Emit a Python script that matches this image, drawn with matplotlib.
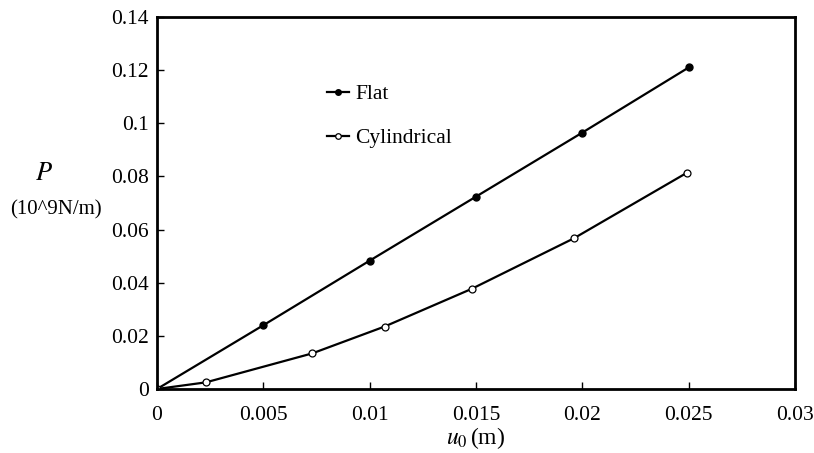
import matplotlib
matplotlib.use('Agg')
import matplotlib.pyplot as plt
from matplotlib.ticker import FuncFormatter, MultipleLocator

# displacement u0 (m) and load P (10^9 N/m)
flat_u = [0.0, 0.005, 0.010, 0.015, 0.020, 0.025]
flat_p = [0.0, 0.0240, 0.0483, 0.0724, 0.0965, 0.1210]
cyl_u = [0.0, 0.0023, 0.0073, 0.0107, 0.0148, 0.0196, 0.0249]
cyl_p = [0.0, 0.0025, 0.0134, 0.0235, 0.0377, 0.0567, 0.0813]

plt.rcParams['font.family'] = ['Liberation Serif', 'DejaVu Serif']
plt.rcParams['mathtext.fontset'] = 'stix'

fig = plt.figure(figsize=(8.14, 4.53), dpi=100)
ax = fig.add_axes([0.1929, 0.1413, 0.7838, 0.8212])

ax.plot(flat_u, flat_p, color='black', lw=1.6, marker='o', ms=5,
        mfc='black', mec='black', label='Flat')
ax.plot(cyl_u, cyl_p, color='black', lw=1.6, marker='o', ms=5,
        mfc='white', mec='black', mew=0.9, label='Cylindrical')

ax.set_xlim(0, 0.03)
ax.set_ylim(0, 0.14)
ax.xaxis.set_major_locator(MultipleLocator(0.005))
ax.yaxis.set_major_locator(MultipleLocator(0.02))
fmt = FuncFormatter(lambda v, pos: f'{v:.3f}'.rstrip('0').rstrip('.') if v != 0 else '0')
ax.xaxis.set_major_formatter(fmt)
ax.yaxis.set_major_formatter(fmt)

ax.tick_params(direction='in', length=5, width=1, labelsize=15.5,
               top=False, right=False, color='black')
ax.tick_params(axis='x', pad=12)
ax.tick_params(axis='y', pad=6)
for s in ax.spines.values():
    s.set_linewidth(2)

leg = ax.legend(loc='upper left', bbox_to_anchor=(0.253, 0.843), frameon=False,
                fontsize=15.5, handlelength=1.0, handletextpad=0.3,
                labelspacing=1.12, borderaxespad=0, markerscale=0.8)

fig.text(0.054, 0.616, r'$P$', fontsize=19, ha='center', va='center')
fig.text(0.069, 0.537, '(10^9N/m)', fontsize=15, ha='center', va='center')
ax.set_xlabel(r'$u_0\,$(m)', fontsize=17, labelpad=0)

fig.savefig('out.png', dpi=100)
